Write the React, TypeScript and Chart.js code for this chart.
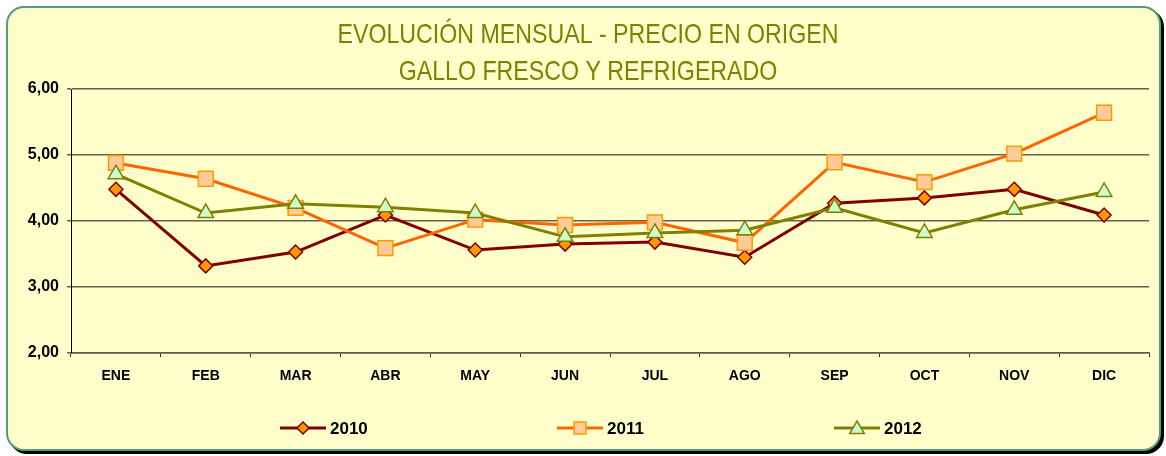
import React, { useEffect, useRef } from "react";
import { Chart, registerables } from "chart.js";

Chart.register(...registerables);

const months = ["ENE", "FEB", "MAR", "ABR", "MAY", "JUN", "JUL", "AGO", "SEP", "OCT", "NOV", "DIC"];
const series2010 = [4.48, 3.32, 3.53, 4.09, 3.56, 3.65, 3.68, 3.45, 4.27, 4.35, 4.48, 4.09];
const series2011 = [4.88, 4.64, 4.2, 3.59, 4.02, 3.94, 3.98, 3.67, 4.89, 4.59, 5.02, 5.64];
const series2012 = [4.71, 4.12, 4.26, 4.21, 4.12, 3.76, 3.82, 3.86, 4.2, 3.82, 4.17, 4.44];
const seriesLabels = ["2010", "2011", "2012"];
const titleLines = ["EVOLUCIÓN MENSUAL - PRECIO EN ORIGEN", "GALLO FRESCO Y REFRIGERADO"];
const yMin = 2;
const yMax = 6;
const yStep = 1;

const W = 1166;
const H = 456;

type Marker = "diamond" | "square" | "triangle";

function drawMarker(ctx: CanvasRenderingContext2D, kind: Marker, x: number, y: number, size: number, fill: string, stroke: string) {
  ctx.save();
  ctx.beginPath();
  if (kind === "diamond") {
    ctx.moveTo(x, y - size);
    ctx.lineTo(x + size, y);
    ctx.lineTo(x, y + size);
    ctx.lineTo(x - size, y);
    ctx.closePath();
  } else if (kind === "square") {
    ctx.rect(x - size, y - size, size * 2, size * 2);
  } else {
    ctx.moveTo(x, y - size);
    ctx.lineTo(x + size * 1.05, y + size * 0.8);
    ctx.lineTo(x - size * 1.05, y + size * 0.8);
    ctx.closePath();
  }
  ctx.fillStyle = fill;
  ctx.fill();
  ctx.lineWidth = 1.5;
  ctx.strokeStyle = stroke;
  ctx.stroke();
  ctx.restore();
}

const legendStyles = [
  { line: "#800000", fill: "#FF9900", stroke: "#800000", kind: "diamond" as Marker, size: 6, x: 280 },
  { line: "#FF6600", fill: "#FFCC99", stroke: "#FF9900", kind: "square" as Marker, size: 6, x: 557 },
  { line: "#808000", fill: "#CCFFCC", stroke: "#808000", kind: "triangle" as Marker, size: 7, x: 834 },
];

const decorPlugin = {
  id: "decor",
  afterDraw(chart: any) {
    const ctx: CanvasRenderingContext2D = chart.ctx;
    // Title
    ctx.save();
    ctx.fillStyle = "#808000";
    ctx.font = '28px "Liberation Sans Narrow", "Arial Narrow", "Liberation Sans", Arial, sans-serif';
    ctx.textBaseline = "alphabetic";
    ctx.textAlign = "center";
    const w0 = ctx.measureText(titleLines[0]).width;
    const s = Math.min(1, 501 / w0);
    const cx = 588;
    const baselines = [43, 80];
    titleLines.forEach((t, i) => {
      ctx.save();
      ctx.translate(cx, baselines[i]);
      ctx.scale(s, 1);
      ctx.fillText(t, 0, 0);
      ctx.restore();
    });
    ctx.restore();

    // Legend
    const ly = 428;
    legendStyles.forEach((st, i) => {
      ctx.save();
      ctx.strokeStyle = st.line;
      ctx.lineWidth = 3;
      ctx.beginPath();
      ctx.moveTo(st.x, ly);
      ctx.lineTo(st.x + 46, ly);
      ctx.stroke();
      drawMarker(ctx, st.kind, st.x + 23, ly, st.size, st.fill, st.stroke);
      ctx.fillStyle = "#000";
      ctx.font = 'bold 17px "Liberation Sans", Arial, sans-serif';
      ctx.textBaseline = "middle";
      ctx.textAlign = "left";
      ctx.fillText(seriesLabels[i], st.x + 50, ly + 1);
      ctx.restore();
    });
  },
};

export default function App() {
  const ref = useRef<HTMLCanvasElement | null>(null);

  useEffect(() => {
    if (!ref.current) return;
    const chart = new Chart(ref.current, {
      type: "line",
      data: {
        labels: months,
        datasets: [
          {
            label: seriesLabels[0],
            data: series2010,
            borderColor: "#800000",
            borderWidth: 3,
            pointStyle: "rectRot",
            pointRadius: 7,
            pointBackgroundColor: "#FF9900",
            pointBorderColor: "#800000",
            pointBorderWidth: 1.5,
            tension: 0,
            order: 2,
          },
          {
            label: seriesLabels[1],
            data: series2011,
            borderColor: "#FF6600",
            borderWidth: 3,
            pointStyle: "rect",
            pointRadius: 10.5,
            pointBackgroundColor: "#FFCC99",
            pointBorderColor: "#FF9900",
            pointBorderWidth: 1.5,
            tension: 0,
            order: 1,
          },
          {
            label: seriesLabels[2],
            data: series2012,
            borderColor: "#808000",
            borderWidth: 3,
            pointStyle: "triangle",
            pointRadius: 9,
            pointBackgroundColor: "#CCFFCC",
            pointBorderColor: "#808000",
            pointBorderWidth: 1.5,
            tension: 0,
            order: 0,
          },
        ],
      },
      options: {
        responsive: false,
        animation: false,
        events: [],
        layout: { padding: { left: 0, top: 89, right: 17, bottom: 63 } },
        plugins: {
          legend: { display: false },
          title: { display: false },
          tooltip: { enabled: false },
        },
        scales: {
          x: {
            offset: true,
            afterFit: (scale: any) => {
              scale.height = 40;
            },
            grid: {
              display: true,
              drawOnChartArea: false,
              drawTicks: true,
              tickLength: 4,
              offset: true,
              color: "#333333",
              lineWidth: 1,
            },
            border: { display: true, color: "#5E5E48", width: 1.5 },
            ticks: {
              color: "#000",
              padding: 11,
              maxRotation: 0,
              font: { family: '"Liberation Sans", Arial, sans-serif', weight: "bold", size: 14 },
            },
          },
          y: {
            min: yMin,
            max: yMax,
            afterFit: (scale: any) => {
              scale.width = 71;
            },
            grid: {
              color: "#62624C",
              lineWidth: 1.5,
              tickLength: 4,
              drawTicks: true,
            },
            border: { display: true, color: "#000", width: 1 },
            ticks: {
              stepSize: yStep,
              color: "#000",
              padding: 8,
              font: { family: '"Liberation Sans", Arial, sans-serif', weight: "bold", size: 16 },
              callback: (v: any) => Number(v).toFixed(2).replace(".", ","),
            },
          },
        },
      },
      plugins: [decorPlugin],
    });
    return () => chart.destroy();
  }, []);

  return (
    <div style={{ position: "fixed", left: 0, top: 0, width: W, height: H, background: "#fff", overflow: "hidden" }}>
      <div
        style={{
          position: "absolute",
          left: 6,
          top: 6,
          width: 1155,
          height: 445,
          boxSizing: "border-box",
          background: "#FFFFCC",
          border: "2px solid #4FA07A",
          borderRadius: 18,
          boxShadow: "3px 3px 0 #000",
        }}
      />
      <canvas ref={ref} width={W} height={H} style={{ position: "absolute", left: 0, top: 0, width: W, height: H }} />
    </div>
  );
}
